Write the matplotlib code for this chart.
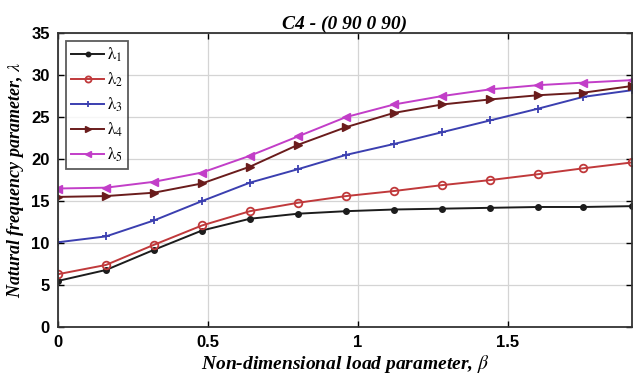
import matplotlib
matplotlib.use("Agg")
import matplotlib.pyplot as plt

plt.rcParams["mathtext.fontset"] = "stix"

beta = [0.0, 0.16, 0.32, 0.48, 0.64, 0.80, 0.96, 1.12, 1.28, 1.44, 1.60, 1.75, 1.913]

lam1 = [5.5, 6.8, 9.2, 11.5, 12.9, 13.5, 13.8, 14.0, 14.1, 14.2, 14.3, 14.3, 14.4]
lam2 = [6.3, 7.4, 9.8, 12.1, 13.8, 14.8, 15.6, 16.2, 16.9, 17.5, 18.2, 18.9, 19.6]
lam3 = [10.1, 10.8, 12.7, 15.0, 17.2, 18.8, 20.5, 21.8, 23.2, 24.6, 26.0, 27.4, 28.2]
lam4 = [15.5, 15.6, 16.0, 17.1, 19.1, 21.7, 23.8, 25.5, 26.5, 27.1, 27.6, 27.9, 28.7]
lam5 = [16.5, 16.6, 17.3, 18.4, 20.4, 22.7, 25.0, 26.5, 27.5, 28.3, 28.8, 29.1, 29.4]

series = [
    (lam1, r"$\mathrm{\lambda}_1$", "#1c1c1c", "o", dict(markersize=4, markerfacecolor="#1c1c1c")),
    (lam2, r"$\mathrm{\lambda}_2$", "#c0393b", "o", dict(markersize=5.5, markerfacecolor="none", markeredgewidth=1.3)),
    (lam3, r"$\mathrm{\lambda}_3$", "#3b3fb0", "+", dict(markersize=5.5, markeredgewidth=1.3)),
    (lam4, r"$\mathrm{\lambda}_4$", "#6a1c1c", ">", dict(markersize=5.5, markerfacecolor="#6a1c1c")),
    (lam5, r"$\mathrm{\lambda}_5$", "#c23ec8", "<", dict(markersize=5.5, markerfacecolor="#c23ec8")),
]

fig = plt.figure(figsize=(6.37, 3.76), dpi=100)
ax = fig.add_axes([0.091, 0.130, 0.901, 0.782])

for vals, lab, col, mk, kw in series:
    ax.plot(beta, vals, color=col, marker=mk, linewidth=1.4, label=lab, **kw)

ax.set_xlim(0, 1.913)
ax.set_ylim(0, 35)
ax.set_xticks([0, 0.5, 1, 1.5])
ax.set_xticklabels(["0", "0.5", "1", "1.5"])
ax.set_yticks(range(0, 36, 5))
ax.grid(True, color="#d4d4d4", linewidth=0.9)
ax.tick_params(direction="in", top=True, right=True, length=4, width=1, pad=6)
for lbl in ax.get_xticklabels() + ax.get_yticklabels():
    lbl.set_fontfamily("Liberation Sans")
    lbl.set_fontweight("bold")
    lbl.set_fontsize(12)
for sp in ax.spines.values():
    sp.set_linewidth(1.3)
    sp.set_color("#333333")

serif = dict(family="Liberation Serif", weight="bold", style="italic")
ax.set_title("C4 - (0 90 0 90)", fontsize=14, pad=3, **serif)
ax.set_xlabel(r"Non-dimensional load parameter, $\beta$", fontsize=14, labelpad=2, **serif)
ax.set_ylabel(r"Natural frequency parameter, $\lambda$", fontsize=13, labelpad=4, **serif)

leg = ax.legend(loc="upper left", fontsize=12, handlelength=2.0, borderpad=0.3,
                labelspacing=0.4, handletextpad=0.15, fancybox=False, markerscale=0.8,
                bbox_to_anchor=(0.008, 0.985), borderaxespad=0.2)
leg.get_frame().set_edgecolor("#333333")
leg.get_frame().set_linewidth(1.3)

fig.savefig("out.png", dpi=100)
